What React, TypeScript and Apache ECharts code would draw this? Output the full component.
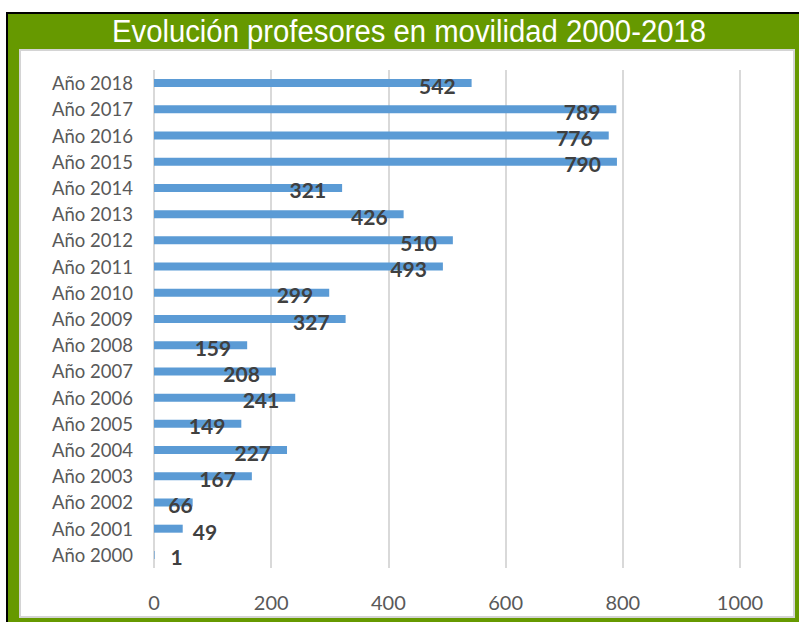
import React, { useEffect, useRef } from "react";
import * as echarts from "echarts";

const categories = [
  "Año 2000", "Año 2001", "Año 2002", "Año 2003", "Año 2004", "Año 2005",
  "Año 2006", "Año 2007", "Año 2008", "Año 2009", "Año 2010", "Año 2011",
  "Año 2012", "Año 2013", "Año 2014", "Año 2015", "Año 2016", "Año 2017",
  "Año 2018",
];
const values = [1, 49, 66, 167, 227, 149, 241, 208, 159, 327, 299, 493, 510, 426, 321, 790, 776, 789, 542];
const xTicks = [0, 200, 400, 600, 800, 1000];
const title = "Evolución profesores en movilidad 2000-2018";

export default function App() {
  const ref = useRef<HTMLDivElement>(null);
  useEffect(() => {
    if (!ref.current) return;
    const chart = echarts.init(ref.current, null, { renderer: "svg" });
    const data = values.map((v) => {
      const item: any = { value: v };
      if (v === 1) item.label = { position: "right", distance: 0, offset: [16, 2] };
      else if (v === 49) item.label = { position: "right", distance: 0, offset: [10, 3] };
      else if (v === 66) item.label = { position: "insideRight", distance: 0, offset: [0, 2] };
      return item;
    });
    chart.setOption({
      animation: false,
      backgroundColor: "transparent",
      graphic: [
        { type: "rect", shape: { x: 6, y: 12, width: 793, height: 610 }, style: { fill: "#000000" }, z: -10 },
        { type: "rect", shape: { x: 8, y: 14, width: 791, height: 608 }, style: { fill: "#669900" }, z: -9 },
        { type: "rect", shape: { x: 20, y: 50, width: 774, height: 567 }, style: { fill: "#ffffff", stroke: "#d4d4d4", lineWidth: 2 }, z: -8 },
        {
          type: "text",
          x: 409,
          y: 31,
          scaleX: 0.945,
          style: {
            text: title,
            fill: "#ffffff",
            fontFamily: "'Liberation Sans', Arial, sans-serif",
            fontSize: 31,
            align: "center",
            verticalAlign: "middle",
          },
          z: 10,
        },
      ],
      grid: { left: 154, right: 59, top: 70, bottom: 54, containLabel: false },
      xAxis: {
        type: "value",
        min: 0,
        max: 1000,
        interval: 200,
        axisLine: { show: false },
        axisTick: { show: false },
        splitLine: { show: true, lineStyle: { color: "#d9d9d9", width: 2 } },
        axisLabel: {
          color: "#595959",
          fontFamily: "Lato, 'Open Sans', sans-serif",
          fontSize: 20,
          margin: 24,
          formatter: (v: number) => (xTicks.includes(v) ? String(v) : ""),
        },
      },
      yAxis: {
        type: "category",
        data: categories,
        axisLine: { show: false },
        axisTick: { show: false },
        splitLine: { show: false },
        axisLabel: {
          color: "#595959",
          fontFamily: "Lato, 'Open Sans', sans-serif",
          fontSize: 18.5,
          margin: 21,
        },
      },
      series: [
        {
          type: "bar",
          data,
          barWidth: 8,
          itemStyle: { color: "#5b9bd5" },
          label: {
            show: true,
            position: "insideRight",
            distance: 0,
            offset: [-16, 2],
            color: "#404040",
            fontFamily: "Lato, 'Open Sans', sans-serif",
            fontWeight: "bold",
            fontSize: 21,
          },
        },
      ],
    });
    return () => chart.dispose();
  }, []);
  return (
    <div style={{ position: "absolute", left: 0, top: 0, width: 799, height: 622, background: "#ffffff" }}>
      <div ref={ref} style={{ width: 799, height: 622 }} />
    </div>
  );
}
